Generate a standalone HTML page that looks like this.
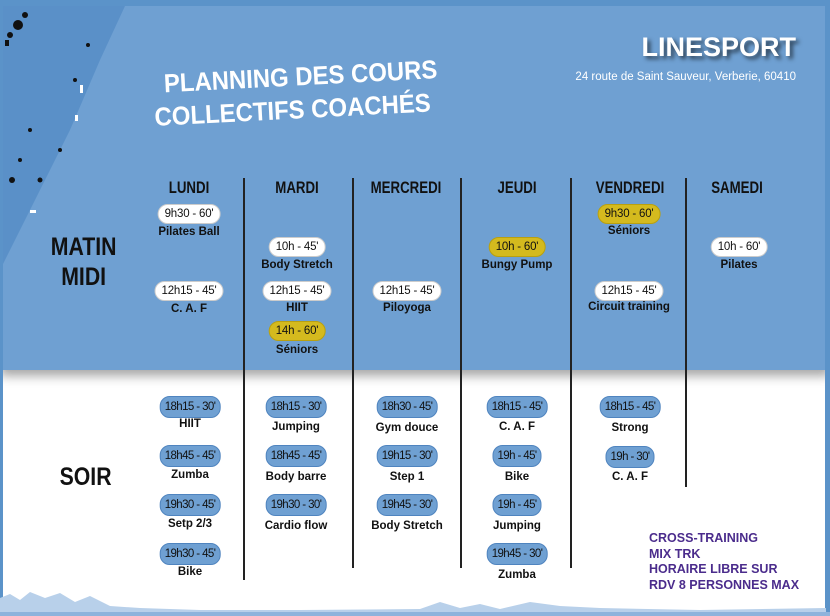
<!DOCTYPE html>
<html><head><meta charset="utf-8">
<style>
*{margin:0;padding:0;box-sizing:border-box}
body{width:830px;height:616px;overflow:hidden;background:#fff;font-family:"Liberation Sans",sans-serif;position:relative}
.top{position:absolute;left:0;top:0;width:830px;height:370px;background:#6fa0d2;box-shadow:0 6px 10px rgba(0,0,0,.35)}
.bord{position:absolute;left:0;top:0;width:830px;height:6px;background:#5b93c9}
.bordr{position:absolute;right:0;top:0;width:5px;height:616px;background:#5b93c9}
.bordl{position:absolute;left:0;top:0;width:3px;height:616px;background:#5b93c9}
.pill{position:absolute;transform:translate(-50%,-50%);height:20px;line-height:19px;border-radius:10px;font-size:11.5px;padding:0 6px;white-space:nowrap;color:#111;letter-spacing:-0.2px}
.w{background:#fff;border:1px solid #ccc}
.y{background:#d4ba1e;border:1px solid #b9a010}
.b{background:#6fa0d2;border:1px solid #4f84bf;padding:0 4px;font-size:11.5px;height:22px;line-height:21px;letter-spacing:-0.6px}
.lab,.lab2{position:absolute;transform:translate(-50%,-50%);font-size:11.5px;font-weight:bold;color:#111;white-space:nowrap}
.day{position:absolute;transform:translateX(-50%) scaleX(.78);top:178px;font-weight:bold;font-size:17px;color:#111}
.v{position:absolute;width:1.5px;background:#222}
.big{position:absolute;font-weight:bold;color:#111;font-size:25px;text-align:center;line-height:30px;transform:scaleX(.85)}
</style></head><body>
<div class="top"></div>
<svg style="position:absolute;left:0;top:0" width="140" height="380">
<polygon points="0,0 125,6 100,60 70,130 35,200 10,250 0,270" fill="#5a90c8"/>
<g fill="#111"><circle cx="18" cy="25" r="5"/><circle cx="10" cy="35" r="3"/><circle cx="25" cy="15" r="3"/><rect x="5" y="40" width="4" height="6"/><circle cx="60" cy="150" r="2"/><circle cx="40" cy="180" r="2.5"/><circle cx="20" cy="160" r="2"/><circle cx="12" cy="180" r="3"/><circle cx="30" cy="130" r="2"/><circle cx="75" cy="80" r="2"/><circle cx="88" cy="45" r="2"/></g>
<g fill="#fff"><rect x="80" y="85" width="3" height="8"/><rect x="75" y="115" width="3" height="6"/><rect x="30" y="210" width="6" height="3"/></g>
</svg>
<div class="bord"></div><div class="bordr"></div><div class="bordl"></div>
<div style="position:absolute;left:152px;top:68px;width:310px;color:#fff;font-weight:bold;font-size:26px;line-height:33px;white-space:nowrap;transform:rotate(-3deg) scaleX(.92);transform-origin:left top">
<div style="padding-left:12px">PLANNING DES COURS</div><div>COLLECTIFS COACHÉS</div></div>
<div style="position:absolute;right:34px;top:32px;color:#fff;font-weight:bold;font-size:27px;text-shadow:3px 3px 4px rgba(0,0,0,.6)">LINESPORT</div>
<div style="position:absolute;right:34px;top:71px;color:#fff;font-size:11.5px">24 route de Saint Sauveur, Verberie, 60410</div>

<div class="big" style="left:45px;top:232px">MATIN<br>MIDI</div>
<div class="big" style="left:55px;top:462px">SOIR</div>

<div class="day" style="left:189px">LUNDI</div>
<div class="day" style="left:297px">MARDI</div>
<div class="day" style="left:406px">MERCREDI</div>
<div class="day" style="left:517px">JEUDI</div>
<div class="day" style="left:630px">VENDREDI</div>
<div class="day" style="left:737px">SAMEDI</div>

<div class="v" style="left:243px;top:178px;height:402px"></div>
<div class="v" style="left:352px;top:178px;height:390px"></div>
<div class="v" style="left:460px;top:178px;height:390px"></div>
<div class="v" style="left:570px;top:178px;height:390px"></div>
<div class="v" style="left:685px;top:178px;height:309px"></div>

<div class="pill w" style="left:189px;top:214px">9h30 - 60'</div><div class="lab" style="left:189px;top:232px">Pilates Ball</div>
<div class="pill w" style="left:189px;top:291px">12h15 - 45'</div><div class="lab" style="left:189px;top:309px">C. A. F</div>
<div class="pill w" style="left:297px;top:247px">10h - 45'</div><div class="lab" style="left:297px;top:265px">Body Stretch</div>
<div class="pill w" style="left:297px;top:291px">12h15 - 45'</div><div class="lab" style="left:297px;top:308px">HIIT</div>
<div class="pill y" style="left:297px;top:331px">14h - 60'</div><div class="lab" style="left:297px;top:350px">Séniors</div>
<div class="pill w" style="left:407px;top:291px">12h15 - 45'</div><div class="lab" style="left:407px;top:308px">Piloyoga</div>
<div class="pill y" style="left:517px;top:247px">10h - 60'</div><div class="lab" style="left:517px;top:265px">Bungy Pump</div>
<div class="pill y" style="left:629px;top:214px">9h30 - 60'</div><div class="lab" style="left:629px;top:231px">Séniors</div>
<div class="pill w" style="left:629px;top:291px">12h15 - 45'</div><div class="lab" style="left:629px;top:307px">Circuit training</div>
<div class="pill w" style="left:739px;top:247px">10h - 60'</div><div class="lab" style="left:739px;top:265px">Pilates</div>

<div class="pill b" style="left:190px;top:407px">18h15 - 30'</div><div class="lab2" style="left:190px;top:424px">HIIT</div>
<div class="pill b" style="left:190px;top:456px">18h45 - 45'</div><div class="lab2" style="left:190px;top:475px">Zumba</div>
<div class="pill b" style="left:190px;top:505px">19h30 - 45'</div><div class="lab2" style="left:190px;top:524px">Setp 2/3</div>
<div class="pill b" style="left:190px;top:554px">19h30 - 45'</div><div class="lab2" style="left:190px;top:572px">Bike</div>
<div class="pill b" style="left:296px;top:407px">18h15 - 30'</div><div class="lab2" style="left:296px;top:427px">Jumping</div>
<div class="pill b" style="left:296px;top:456px">18h45 - 45'</div><div class="lab2" style="left:296px;top:477px">Body barre</div>
<div class="pill b" style="left:296px;top:505px">19h30 - 30'</div><div class="lab2" style="left:296px;top:526px">Cardio flow</div>
<div class="pill b" style="left:407px;top:407px">18h30 - 45'</div><div class="lab2" style="left:407px;top:428px">Gym douce</div>
<div class="pill b" style="left:407px;top:456px">19h15 - 30'</div><div class="lab2" style="left:407px;top:477px">Step 1</div>
<div class="pill b" style="left:407px;top:505px">19h45 - 30'</div><div class="lab2" style="left:407px;top:526px">Body Stretch</div>
<div class="pill b" style="left:517px;top:407px">18h15 - 45'</div><div class="lab2" style="left:517px;top:427px">C. A. F</div>
<div class="pill b" style="left:517px;top:456px">19h - 45'</div><div class="lab2" style="left:517px;top:477px">Bike</div>
<div class="pill b" style="left:517px;top:505px">19h - 45'</div><div class="lab2" style="left:517px;top:526px">Jumping</div>
<div class="pill b" style="left:517px;top:554px">19h45 - 30'</div><div class="lab2" style="left:517px;top:575px">Zumba</div>
<div class="pill b" style="left:630px;top:407px">18h15 - 45'</div><div class="lab2" style="left:630px;top:428px">Strong</div>
<div class="pill b" style="left:630px;top:457px">19h - 30'</div><div class="lab2" style="left:630px;top:477px">C. A. F</div>

<div style="position:absolute;left:649px;top:531px;color:#4b2c8c;font-weight:bold;font-size:12.5px;line-height:15.5px">CROSS-TRAINING<br>MIX TRK<br>HORAIRE LIBRE SUR<br>RDV 8 PERSONNES MAX</div>

<svg style="position:absolute;left:0;top:590px" width="830" height="26">
<path d="M0,26 L0,8 L10,4 L20,10 L30,2 L45,8 L60,3 L75,12 L90,6 L110,16 L140,18 L200,20 L300,20 L420,19 L440,12 L460,18 L480,14 L500,19 L530,12 L560,16 L600,18 L700,20 L826,18 L826,26 Z" fill="#b8d0ea"/>
<rect x="0" y="22" width="830" height="4" fill="#8db3dc"/>
</svg>
</body></html>
